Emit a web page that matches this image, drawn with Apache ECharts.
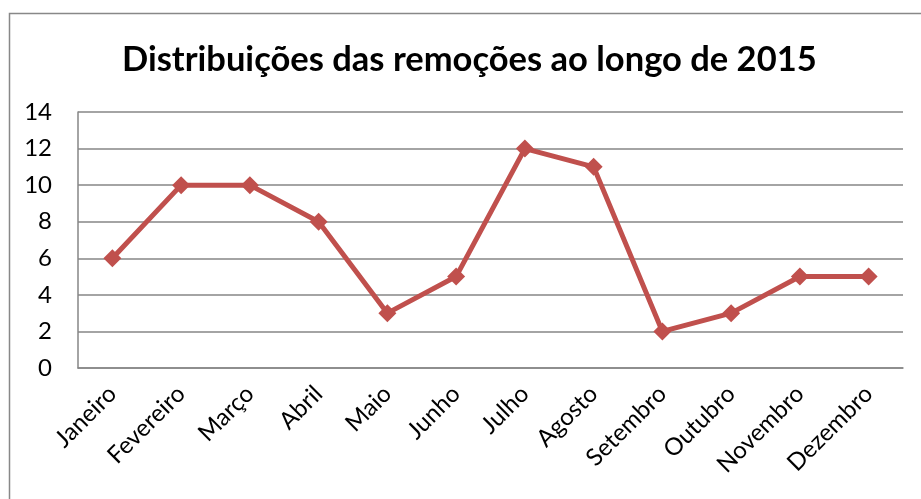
<!DOCTYPE html>
<html>
<head>
<meta charset="utf-8">
<script src="https://cdn.jsdelivr.net/npm/echarts@6/dist/echarts.min.js"></script>
<style>
html,body{margin:0;padding:0;background:#fff;}
#chart{width:921px;height:499px;}
</style>
</head>
<body>
<div id="chart"></div>
<script>
const meses = ['Janeiro','Fevereiro','Março','Abril','Maio','Junho','Julho','Agosto','Setembro','Outubro','Novembro','Dezembro'];
const remocoes = [6,10,10,8,3,5,12,11,2,3,5,5];

const chart = echarts.init(document.getElementById('chart'));
const fonte = 'Lato, "Open Sans", sans-serif';
chart.setOption({
    animation: false,
    title: {
        text: 'Distribuições das remoções ao longo de 2015',
        left: 117,
        top: 37,
        textStyle: {fontFamily: fonte, fontSize: 34.5, fontWeight: 'bold', color: '#000'}
    },
    graphic: [{
        type: 'rect',
        shape: {x: 9.5, y: 13.5, width: 1000, height: 1000},
        style: {fill: 'none', stroke: '#888', lineWidth: 1.5},
        silent: true
    }],
    grid: {left: 78, right: 18, top: 112, bottom: 131},
    xAxis: {
        type: 'category',
        data: meses,
        boundaryGap: true,
        axisLine: {lineStyle: {color: '#868686', width: 1.5}},
        axisTick: {show: false},
        axisLabel: {rotate: 45, fontFamily: fonte, fontSize: 24, color: '#000', margin: 22, interval: 0}
    },
    yAxis: {
        type: 'value',
        min: 0,
        max: 14,
        interval: 2,
        axisLine: {show: true, lineStyle: {color: '#868686', width: 1.5}},
        axisTick: {show: false},
        splitLine: {lineStyle: {color: '#868686', width: 1.5}},
        axisLabel: {fontFamily: fonte, fontSize: 24, color: '#000', margin: 26}
    },
    series: [{
        type: 'line',
        data: remocoes,
        symbol: 'diamond',
        symbolSize: 18,
        lineStyle: {color: '#C0504D', width: 5},
        itemStyle: {color: '#C0504D'}
    }]
});
</script>
</body>
</html>
